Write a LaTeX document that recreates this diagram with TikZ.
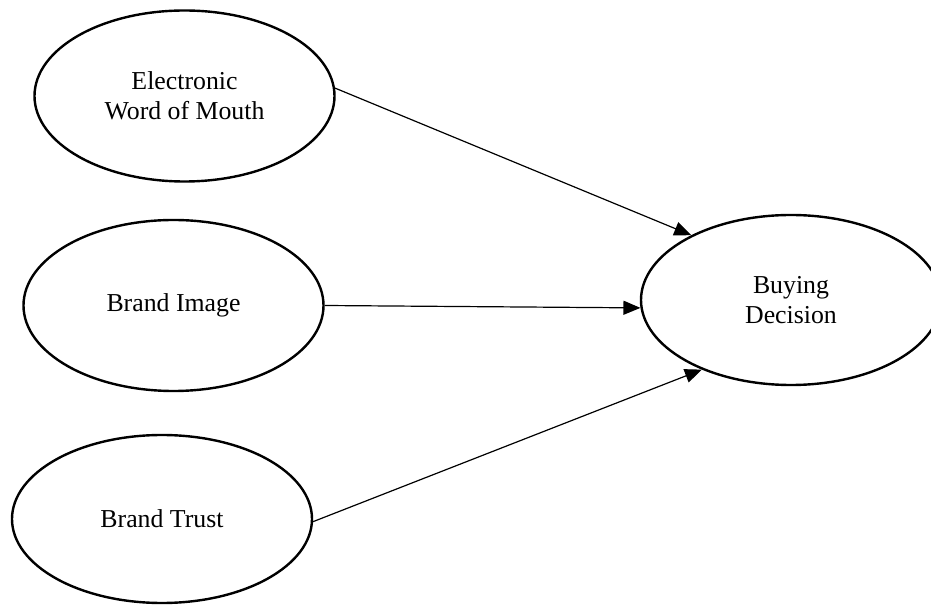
\documentclass[tikz,border=0pt]{standalone}
\usepackage{fontspec}
\setmainfont{Liberation Serif}
\usetikzlibrary{shapes.geometric, arrows.meta}

\begin{document}
\begin{tikzpicture}[
        x=1pt, y=1pt,
        construct/.style={ellipse, draw=black, line width=2.4pt, minimum width=300pt, minimum height=171pt, inner sep=0pt, align=center, font=\fontsize{25.8}{30}\selectfont},
        line/.style={draw=black, line width=1.2pt, -{Triangle[length=17pt, width=14pt]}}
    ]
        \useasboundingbox (0,0) rectangle (931,605);

        \node [construct] (ewom) at (184.5,509) {Electronic\\Word of Mouth};
        \node [construct] (image) at (173.5,299.5) {Brand Image};
        \node [construct, minimum height=168pt] (trust) at (162,86) {Brand Trust};
        \node [construct, minimum height=170pt] (decision) at (791,305) {Buying\\Decision};

        \draw[line] (ewom.3) -- (decision.147);
        \draw[line] (image.0) -- (decision.183);
        \draw[line] (trust.-1) -- (decision.218);
    \end{tikzpicture}
\end{document}
